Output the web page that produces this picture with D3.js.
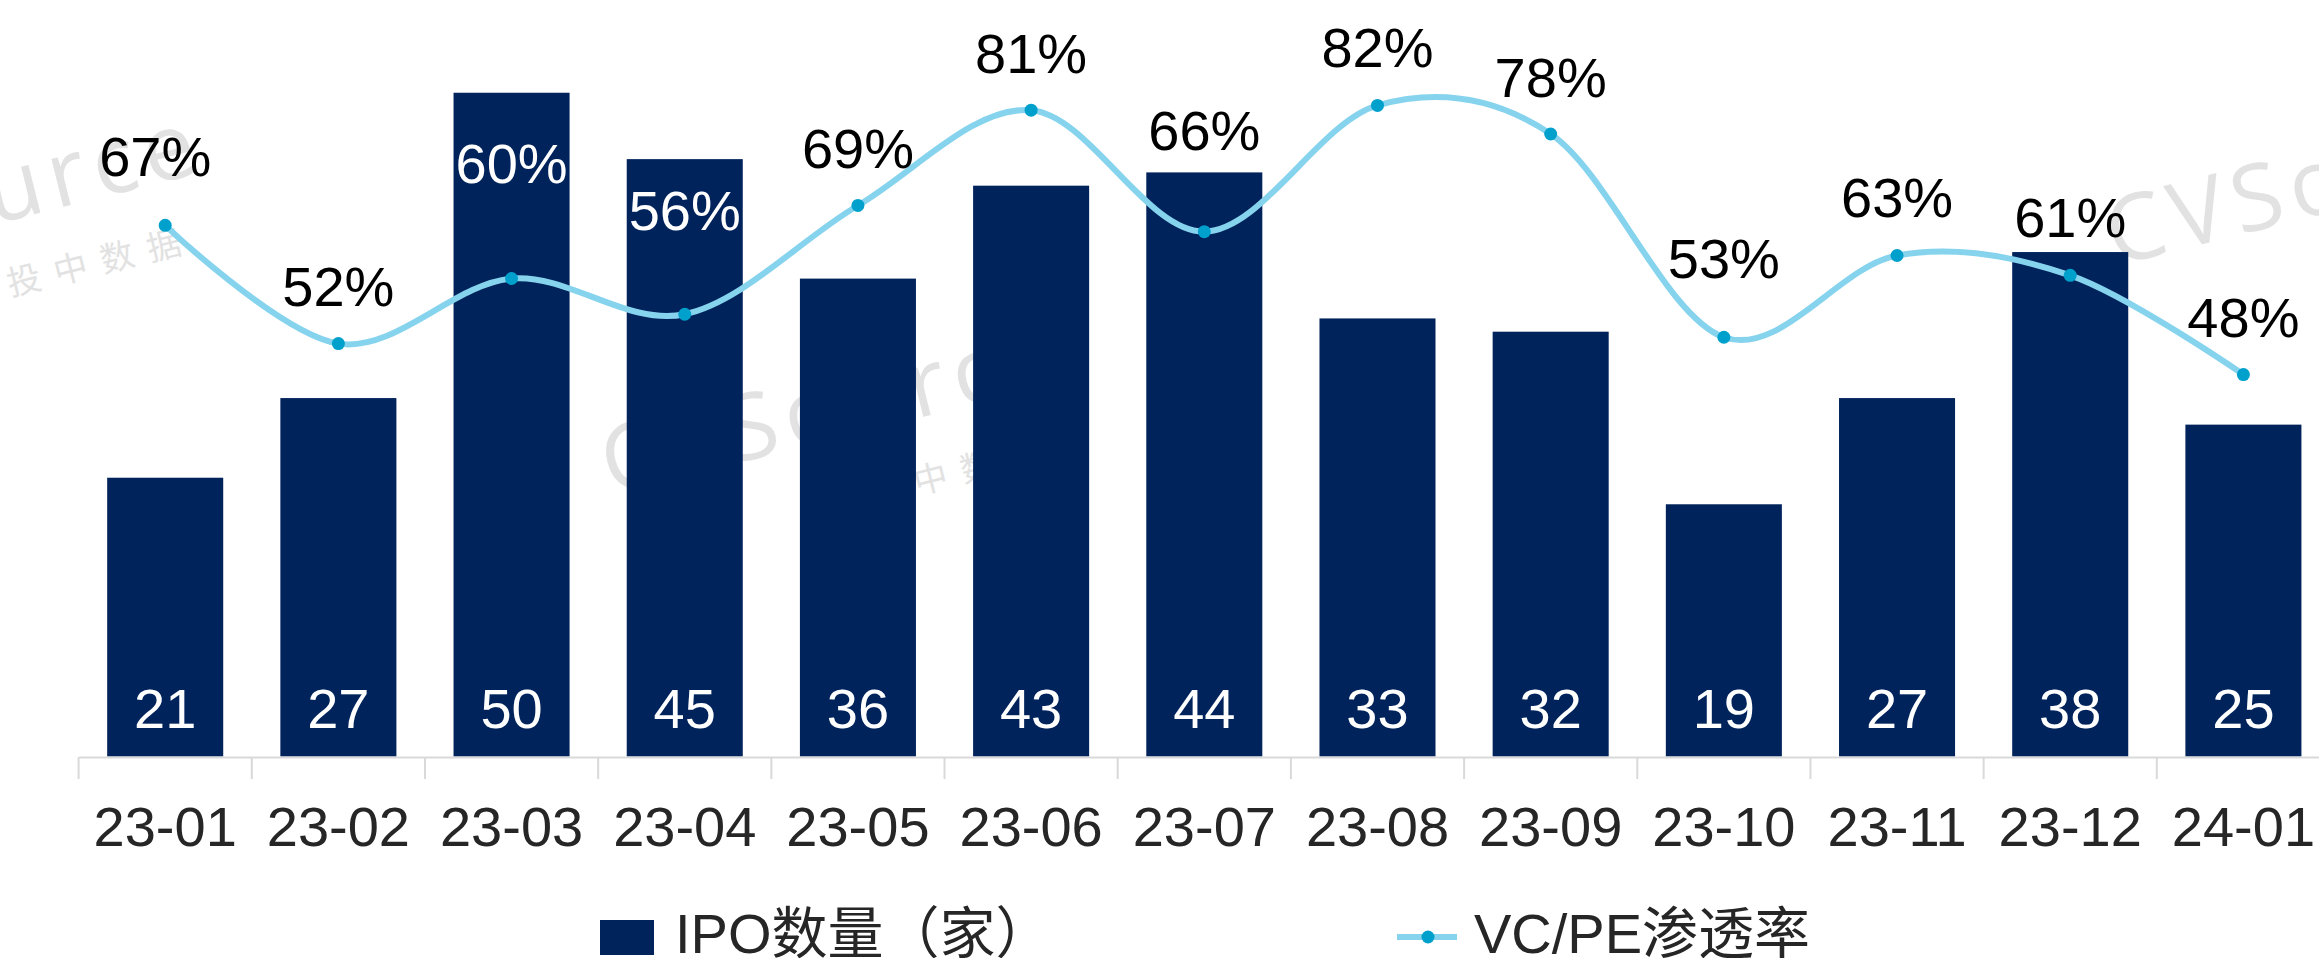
<!DOCTYPE html>
<html>
<head>
<meta charset="utf-8">
<script src="https://cdn.jsdelivr.net/npm/d3@7"></script>
<style>
  html, body { margin: 0; padding: 0; background: #fff; }
  svg { display: block; }
</style>
</head>
<body>
<svg id="chart" width="2319" height="958"></svg>
<script>
// ---------------- DATA ----------------
const categories = ['23-01','23-02','23-03','23-04','23-05','23-06','23-07','23-08','23-09','23-10','23-11','23-12','24-01'];
const ipoCounts  = [21, 27, 50, 45, 36, 43, 44, 33, 32, 19, 27, 38, 25];
const vcpeRate   = [66.9, 52.0, 60.2, 55.7, 69.4, 81.4, 66.1, 82.0, 78.4, 52.8, 63.1, 60.6, 48.1]; // %
const seriesNames = ['IPO数量（家）', 'VC/PE渗透率'];

// ---------------- LAYOUT ----------------
const W = 2319, H = 958;
const baseY = 756.5;
const labelLift = [49, 38, 96, 84, 37, 37, 82, 38, 37, 59, 38, 38, 38]; // px above point for % labels
const labelShift = [-10, 0, 0, 0, 0, 0, 0, 0, 0, 0, 0, 0, 0];
const colBar = '#00235B', colLine = '#86D3EE', colDot = '#00A0CC', colAxis = '#D9D9D9';
const fontLatin = '"Liberation Sans", Arial, "Noto Sans CJK SC", sans-serif';

const svg = d3.select('#chart');

const x = d3.scaleBand().domain(categories).range([78.6, 2330]).paddingInner(0.33).paddingOuter(0.165);
const yBar = d3.scaleLinear().domain([0, 60]).range([baseY, -40]);
const yPct = d3.scaleLinear().domain([0, 100]).range([baseY, -37.5]);
const cx = c => x(c) + x.bandwidth() / 2;

// ---------------- WATERMARK ----------------
const wm = svg.append('g').attr('fill', '#E2E2E2');
[[-250, 285], [610, 495], [2115, 266]].forEach(([px, py]) => {
  const g = wm.append('g').attr('transform', `translate(${px},${py}) rotate(-14)`);
  g.append('text').text('CVSource')
    .attr('font-family', '"Open Sans", "DejaVu Sans", sans-serif').attr('font-weight', 400)
    .attr('font-size', 92).attr('letter-spacing', 8);
  g.append('text').text('投中数据').attr('x', 250).attr('y', 74)
    .attr('font-family', '"Noto Sans CJK SC", sans-serif').attr('font-weight', 400)
    .attr('font-size', 34).attr('letter-spacing', 14);
});

// ---------------- BARS ----------------
svg.append('g').selectAll('rect').data(categories).join('rect')
  .attr('x', d => x(d)).attr('width', x.bandwidth())
  .attr('y', (d, i) => yBar(ipoCounts[i]))
  .attr('height', (d, i) => baseY - yBar(ipoCounts[i]))
  .attr('fill', colBar);

svg.append('g').selectAll('text').data(categories).join('text')
  .attr('x', d => cx(d)).attr('y', 728)
  .attr('text-anchor', 'middle').attr('fill', '#fff')
  .attr('font-family', fontLatin).attr('font-size', 56)
  .text((d, i) => ipoCounts[i]);

// ---------------- LINE ----------------
const line = d3.line()
  .x((d, i) => cx(categories[i]))
  .y(d => yPct(d))
  .curve(d3.curveCatmullRom.alpha(0));

svg.append('path').datum(vcpeRate)
  .attr('d', line).attr('fill', 'none')
  .attr('stroke', colLine).attr('stroke-width', 6).attr('stroke-linecap', 'round');

svg.append('g').selectAll('circle').data(vcpeRate).join('circle')
  .attr('cx', (d, i) => cx(categories[i])).attr('cy', d => yPct(d))
  .attr('r', 6.5).attr('fill', colDot);

svg.append('g').selectAll('text').data(vcpeRate).join('text')
  .attr('x', (d, i) => cx(categories[i]) + labelShift[i])
  .attr('y', (d, i) => yPct(d) - labelLift[i])
  .attr('text-anchor', 'middle')
  .attr('font-family', fontLatin).attr('font-size', 56)
  .attr('fill', (d, i) => (yPct(d) - labelLift[i] > yBar(ipoCounts[i]) + 10) ? '#fff' : '#000')
  .text(d => Math.round(d) + '%');

// ---------------- AXIS ----------------
const axis = svg.append('g').attr('transform', `translate(0,${baseY + 0.5})`)
  .call(d3.axisBottom(x).tickSize(0).tickSizeOuter(0).tickPadding(0));
axis.select('.domain').attr('stroke', colAxis).attr('stroke-width', 2);
axis.selectAll('.tick text')
  .attr('y', 846 - baseY - 0.5).attr('dy', 0)
  .attr('font-family', fontLatin).attr('font-size', 56).attr('fill', '#262626');

const r0 = x.range()[0];
axis.append('g').selectAll('line').data(d3.range(categories.length + 1)).join('line')
  .attr('x1', k => r0 + k * x.step()).attr('x2', k => r0 + k * x.step())
  .attr('y1', 0).attr('y2', 22)
  .attr('stroke', colAxis).attr('stroke-width', 2);

// ---------------- LEGEND ----------------
const lg = svg.append('g');
lg.append('rect').attr('x', 600).attr('y', 920).attr('width', 54).attr('height', 35).attr('fill', colBar);
lg.append('text').attr('x', 675).attr('y', 953)
  .attr('font-family', fontLatin).attr('font-size', 56).attr('fill', '#262626').text(seriesNames[0]);
lg.append('line').attr('x1', 1397).attr('x2', 1457).attr('y1', 937).attr('y2', 937)
  .attr('stroke', colLine).attr('stroke-width', 6);
lg.append('circle').attr('cx', 1428).attr('cy', 937).attr('r', 6.5).attr('fill', colDot);
lg.append('text').attr('x', 1474).attr('y', 953)
  .attr('font-family', fontLatin).attr('font-size', 56).attr('fill', '#262626').text(seriesNames[1]);
</script>
</body>
</html>
